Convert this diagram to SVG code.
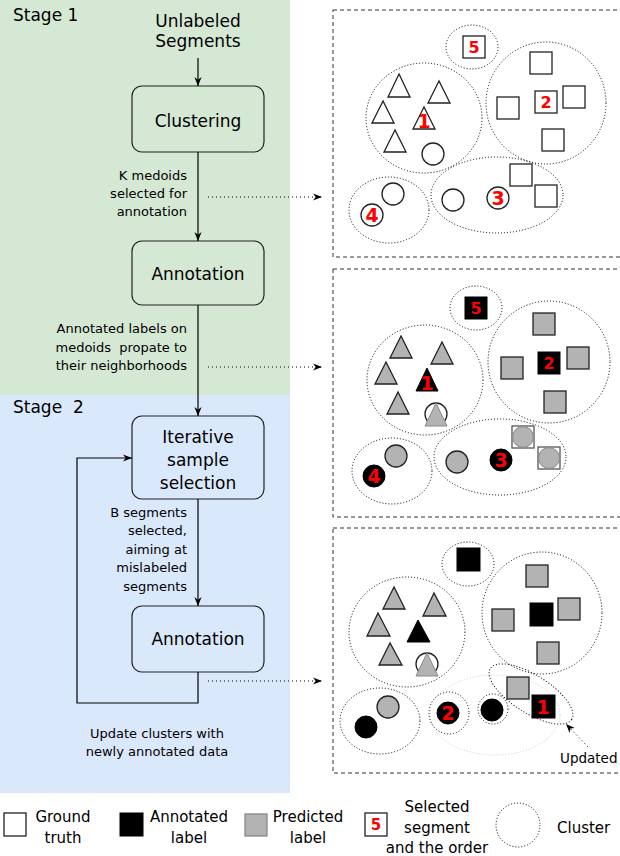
<svg xmlns="http://www.w3.org/2000/svg" width="620" height="856" viewBox="0 0 620 856">
<defs>
<style>
text{font-family:"DejaVu Sans","Liberation Sans",sans-serif;fill:#000}
.big{font-size:17px;text-anchor:middle}
.sm{font-size:13px;text-anchor:end}
.smc{font-size:13px;text-anchor:middle}
.lg{font-size:15px;text-anchor:middle}
.box{fill:none;stroke:#222;stroke-width:1.2}
.gt{fill:#fff;stroke:#222;stroke-width:1.3}
.pr{fill:#b3b3b3;stroke:#222;stroke-width:1.3}
.an{fill:#000;stroke:#000;stroke-width:1}
.prg{fill:#b3b3b3;stroke:#888;stroke-width:1}
.cl{fill:none;stroke:#000;stroke-width:1;stroke-dasharray:1 2}
.clf{fill:none;stroke:#ccc;stroke-width:1;stroke-dasharray:1 2}
.panel{fill:none;stroke:#333;stroke-width:1;stroke-dasharray:4 3}
.num{font-weight:bold;fill:#ff0000;text-anchor:middle;font-size:19px}
.nums{font-weight:bold;fill:#ff0000;text-anchor:middle;font-size:16px}
.edge{fill:none;stroke:#000;stroke-width:1.2}
.dot{fill:none;stroke:#000;stroke-width:1;stroke-dasharray:1 3}
</style>
<marker id="arr" viewBox="0 0 10 10" refX="10" refY="5" markerWidth="9" markerHeight="9" markerUnits="userSpaceOnUse" orient="auto">
<path d="M0,1 L10,5 L0,9 L3,5 z" fill="#000"/>
</marker>
</defs>

<rect x="0" y="0" width="290" height="395" fill="#d5e8d4"/>
<rect x="0" y="395" width="290" height="398" fill="#dae8fc"/>
<text x="13" y="21" style="font-size:17px">Stage 1</text>
<text x="13" y="413" style="font-size:17px" xml:space="preserve">Stage  2</text>

<g id="unlabeled">
<text class="big" x="198" y="27">Unlabeled</text>
<text class="big" x="198" y="46.5">Segments</text>
</g>
<g id="clustering">
<rect class="box" x="132" y="86" width="132" height="66" rx="10"/>
<text class="big" x="198" y="126.5">Clustering</text>
</g>
<g id="annotation1">
<rect class="box" x="132" y="241" width="132" height="64" rx="10"/>
<text class="big" x="198" y="280">Annotation</text>
</g>
<g id="iterative">
<rect class="box" x="132" y="416" width="132" height="83" rx="10"/>
<text class="big" x="198" y="443">Iterative</text>
<text class="big" x="198" y="466">sample</text>
<text class="big" x="198" y="489">selection</text>
</g>
<g id="annotation2">
<rect class="box" x="132" y="606" width="132" height="66" rx="10"/>
<text class="big" x="198" y="645">Annotation</text>
</g>

<g id="connectors">
<line class="edge" x1="198" y1="58" x2="198" y2="86" marker-end="url(#arr)"/>
<line class="edge" x1="198" y1="152" x2="198" y2="241" marker-end="url(#arr)"/>
<line class="edge" x1="198" y1="305" x2="198" y2="416" marker-end="url(#arr)"/>
<line class="edge" x1="198" y1="499" x2="198" y2="606" marker-end="url(#arr)"/>
<path class="edge" d="M198,672 V703 H77 V458 H132" marker-end="url(#arr)"/>
<line class="dot" x1="208" y1="197" x2="322" y2="197" marker-end="url(#arr)"/>
<line class="dot" x1="208" y1="367" x2="322" y2="367" marker-end="url(#arr)"/>
<line class="dot" x1="208" y1="681" x2="322" y2="681" marker-end="url(#arr)"/>
<line class="dot" x1="588" y1="747" x2="566" y2="724" marker-end="url(#arr)"/>
</g>

<g id="edge-labels">
<text class="sm" x="187" y="180">K medoids</text>
<text class="sm" x="187" y="198">selected for</text>
<text class="sm" x="187" y="216">annotation</text>
<text class="sm" x="187" y="333">Annotated labels on</text>
<text class="sm" x="187" y="352" xml:space="preserve">medoids  propate to</text>
<text class="sm" x="187" y="370">their neighborhoods</text>
<text class="sm" x="187" y="517">B segments</text>
<text class="sm" x="187" y="535">selected,</text>
<text class="sm" x="187" y="554">aiming at</text>
<text class="sm" x="187" y="572">mislabeled</text>
<text class="sm" x="187" y="591">segments</text>
<text class="smc" x="157" y="738">Update clusters with</text>
<text class="smc" x="157" y="756">newly annotated data</text>
</g>

<!-- Panel 1 -->
<g id="panel1">
<rect class="panel" x="333" y="10" width="300" height="247"/>
<ellipse class="cl" cx="472" cy="47" rx="26" ry="22"/>
<ellipse class="cl" cx="546" cy="103" rx="60" ry="61"/>
<ellipse class="cl" cx="424" cy="118" rx="58" ry="55"/>
<ellipse class="cl" cx="497" cy="195" rx="66" ry="38"/>
<ellipse class="cl" cx="389" cy="210" rx="40" ry="33"/>
<rect class="gt" x="463" y="36" width="22" height="22"/>
<text class="nums" x="474" y="53">5</text>
<rect class="gt" x="530" y="52" width="22" height="22"/>
<rect class="gt" x="563" y="86" width="22" height="22"/>
<rect class="gt" x="497" y="97" width="22" height="22"/>
<rect class="gt" x="535" y="91" width="22" height="22"/>
<text class="nums" x="546" y="108">2</text>
<rect class="gt" x="542" y="129" width="22" height="22"/>
<rect class="gt" x="510" y="164" width="22" height="22"/>
<rect class="gt" x="535" y="185" width="22" height="22"/>
<polygon class="gt" points="399,74 388,97 410,97"/>
<polygon class="gt" points="439,81 428,103 450,103"/>
<polygon class="gt" points="383,101 372,123 394,123"/>
<polygon class="gt" points="424,107 413,129 435,129"/>
<text class="num" x="424" y="128">1</text>
<polygon class="gt" points="395,130 384,152 406,152"/>
<circle class="gt" cx="433" cy="154" r="11"/>
<circle class="gt" cx="453" cy="200" r="11"/>
<circle class="gt" cx="498" cy="198" r="11"/>
<text class="num" x="498" y="205">3</text>
<circle class="gt" cx="393" cy="194" r="11"/>
<circle class="gt" cx="372" cy="215" r="11"/>
<text class="num" x="372" y="222">4</text>
</g>

<!-- Panel 2 -->
<g id="panel2">
<rect class="panel" x="333" y="269" width="300" height="248"/>
<ellipse class="cl" cx="476" cy="308" rx="26" ry="22"/>
<ellipse class="cl" cx="549" cy="362" rx="61" ry="61"/>
<ellipse class="cl" cx="425" cy="380" rx="58" ry="55"/>
<ellipse class="cl" cx="500" cy="457" rx="66" ry="38"/>
<ellipse class="cl" cx="392" cy="471" rx="40" ry="33"/>
<rect class="an" x="465" y="297" width="22" height="22"/>
<text class="nums" x="476" y="314">5</text>
<rect class="pr" x="533" y="313" width="22" height="22"/>
<rect class="pr" x="567" y="347" width="22" height="22"/>
<rect class="pr" x="501" y="357" width="22" height="22"/>
<rect class="an" x="538" y="352" width="22" height="22"/>
<text class="nums" x="549" y="369">2</text>
<rect class="pr" x="544" y="391" width="22" height="22"/>
<polygon class="pr" points="401,336 390,358 412,358"/>
<polygon class="pr" points="442,342 431,364 453,364"/>
<polygon class="pr" points="386,362 375,384 397,384"/>
<polygon class="an" points="427,368 416,391 438,391"/>
<text class="num" x="427" y="390">1</text>
<polygon class="pr" points="398,392 387,414 409,414"/>
<circle class="gt" cx="436" cy="414" r="11"/>
<polygon class="prg" points="436,403 425,426 447,426"/>
<circle class="pr" cx="457" cy="462" r="11"/>
<circle class="an" cx="501" cy="460" r="11"/>
<text class="num" x="501" y="467">3</text>
<rect class="gt" x="512" y="426" width="22" height="22" style="stroke:#555"/>
<circle class="prg" cx="523" cy="437" r="10.5"/>
<rect class="gt" x="538" y="447" width="22" height="22" style="stroke:#555"/>
<circle class="prg" cx="549" cy="458" r="10.5"/>
<circle class="pr" cx="396" cy="456" r="11"/>
<circle class="an" cx="374" cy="476" r="11"/>
<text class="num" x="374" y="483">4</text>
</g>

<!-- Panel 3 -->
<g id="panel3">
<rect class="panel" x="333" y="528" width="300" height="245"/>
<ellipse class="cl" cx="468" cy="564" rx="26" ry="22"/>
<ellipse class="cl" cx="542" cy="613" rx="60" ry="61"/>
<ellipse class="cl" cx="407" cy="632" rx="58" ry="55"/>
<ellipse class="clf" cx="495" cy="715" rx="65" ry="40"/>
<ellipse class="cl" cx="449" cy="713" rx="20" ry="21"/>
<ellipse class="cl" cx="380" cy="721" rx="40" ry="33"/>
<circle class="cl" cx="493" cy="709" r="15"/>
<ellipse class="cl" cx="531" cy="694" rx="48" ry="19" transform="rotate(32 531 694)"/>
<rect class="an" x="457" y="548" width="23" height="23"/>
<rect class="pr" x="526" y="565" width="22" height="22"/>
<rect class="pr" x="558" y="598" width="22" height="22"/>
<rect class="pr" x="492" y="609" width="22" height="22"/>
<rect class="an" x="530" y="603" width="23" height="23"/>
<rect class="pr" x="537" y="642" width="22" height="22"/>
<polygon class="pr" points="394,587 383,609 405,609"/>
<polygon class="pr" points="434,593 423,616 446,616"/>
<polygon class="pr" points="378,613 367,636 390,636"/>
<polygon class="an" points="418,620 407,642 430,642"/>
<polygon class="pr" points="390,643 379,665 402,665"/>
<circle class="gt" cx="427" cy="664" r="11"/>
<polygon class="prg" points="427,653 416,676 438,676"/>
<rect class="pr" x="507" y="677" width="22" height="22"/>
<rect class="an" x="532" y="695" width="23" height="23"/>
<text class="num" x="543" y="714">1</text>
<circle class="an" cx="448" cy="713" r="11"/>
<text class="num" x="448" y="720">2</text>
<circle class="an" cx="492" cy="710" r="11"/>
<circle class="pr" cx="388" cy="707" r="11"/>
<circle class="an" cx="366" cy="727" r="11"/>
<text x="560" y="763" style="font-size:13.5px">Updated</text>
</g>

<!-- Legend -->
<g id="legend">
<rect class="gt" x="4" y="813" width="22" height="23"/>
<text class="lg" x="63" y="822">Ground</text>
<text class="lg" x="63" y="843">truth</text>
<rect class="an" x="120" y="813" width="23" height="23"/>
<text class="lg" x="189" y="822">Annotated</text>
<text class="lg" x="189" y="843">label</text>
<rect x="245" y="814" width="22" height="22" fill="#b3b3b3" stroke="#808080" stroke-width="1.2"/>
<text class="lg" x="308" y="822">Predicted</text>
<text class="lg" x="308" y="843">label</text>
<rect class="gt" x="365" y="813" width="22" height="23"/>
<text class="nums" x="376" y="830" style="font-size:15px">5</text>
<text class="lg" x="437" y="812">Selected</text>
<text class="lg" x="437" y="833">segment</text>
<text class="lg" x="437" y="853">and the order</text>
<circle class="cl" cx="518" cy="825" r="22"/>
<text x="557" y="833" style="font-size:15px">Cluster</text>
</g>
</svg>
